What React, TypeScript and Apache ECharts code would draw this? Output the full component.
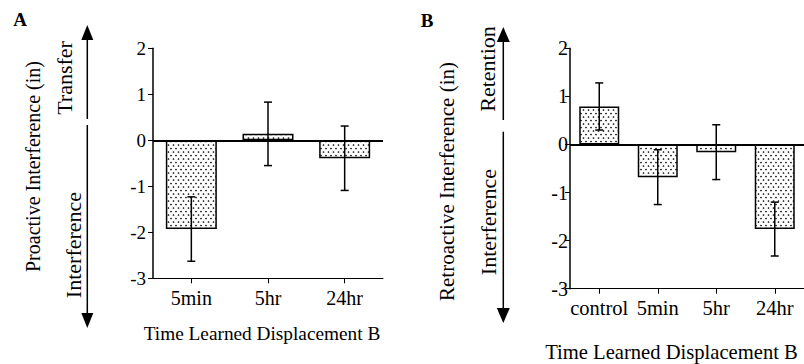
import React, { useEffect, useRef } from "react";
import * as echarts from "echarts";

const categoriesA = ["5min", "5hr", "24hr"];
const valuesA = [-1.93, 0.14, -0.39];
const errorsA = [0.7, 0.69, 0.7];

const categoriesB = ["control", "5min", "5hr", "24hr"];
const valuesB = [0.79, -0.68, -0.16, -1.76];
const errorsB = [0.49, 0.57, 0.57, 0.56];

const yMin = -3;
const yMax = 2;
const yStep = 1;

const FONT = "Liberation Serif";
const INK = "#000";

function makePattern() {
  const c = document.createElement("canvas");
  c.width = 5;
  c.height = 7;
  const ctx = c.getContext("2d")!;
  ctx.fillStyle = "#fff";
  ctx.fillRect(0, 0, 5, 7);
  ctx.fillStyle = "#000";
  ctx.beginPath();
  ctx.arc(1, 1.5, 0.85, 0, Math.PI * 2);
  ctx.fill();
  ctx.beginPath();
  ctx.arc(3.5, 5, 0.85, 0, Math.PI * 2);
  ctx.fill();
  return { image: c.toDataURL(), repeat: "repeat", imageWidth: 5, imageHeight: 7 };
}

function errorRender(params: any, api: any) {
  const x = api.value(0);
  const lo = api.value(1);
  const hi = api.value(2);
  const pLo = api.coord([x, lo]);
  const pHi = api.coord([x, hi]);
  const hw = 4;
  const st = { stroke: INK, lineWidth: 1.5 };
  return {
    type: "group",
    children: [
      { type: "line", shape: { x1: pLo[0], y1: pLo[1], x2: pHi[0], y2: pHi[1] }, style: st },
      { type: "line", shape: { x1: pLo[0] - hw, y1: pLo[1], x2: pLo[0] + hw, y2: pLo[1] }, style: st },
      { type: "line", shape: { x1: pHi[0] - hw, y1: pHi[1], x2: pHi[0] + hw, y2: pHi[1] }, style: st },
    ],
  };
}

function txt(text: string, x: number, y: number, size: number, rotate = false, bold = false) {
  return {
    type: "text",
    x,
    y,
    rotation: rotate ? Math.PI / 2 : 0,
    style: {
      text,
      fontFamily: FONT,
      fontSize: size,
      fontWeight: bold ? "bold" : "normal",
      fill: INK,
      align: "center",
      verticalAlign: "middle",
      textAlign: "center",
      textVerticalAlign: "middle",
    },
  };
}

function arrow(x: number, top: number, gapTop: number, gapBottom: number, bottom: number, headH: number, headW: number) {
  const ls = { stroke: INK, lineWidth: 1.5 };
  return [
    { type: "line", shape: { x1: x, y1: top + headH, x2: x, y2: gapTop }, style: ls },
    { type: "line", shape: { x1: x, y1: gapBottom, x2: x, y2: bottom - headH }, style: ls },
    {
      type: "polygon",
      shape: { points: [[x, top], [x - headW / 2, top + headH], [x + headW / 2, top + headH]] },
      style: { fill: INK },
    },
    {
      type: "polygon",
      shape: { points: [[x, bottom], [x - headW / 2, bottom - headH], [x + headW / 2, bottom - headH]] },
      style: { fill: INK },
    },
  ];
}

export default function App() {
  const ref = useRef<HTMLDivElement>(null);
  useEffect(() => {
    if (!ref.current) return;
    const chart = echarts.init(ref.current, undefined, { renderer: "svg" });
    const pattern = makePattern();

    const xAxisBase = (data: string[], gridIndex: number, fontSize: number, margin: number) => ({
      type: "category",
      gridIndex,
      data,
      position: "bottom",
      axisLine: { show: true, onZero: false, lineStyle: { color: INK, width: 1 } },
      axisTick: { show: true, alignWithLabel: true, length: 5, lineStyle: { color: INK, width: 1 } },
      axisLabel: { fontFamily: FONT, fontSize, color: INK, margin, interval: 0 },
      splitLine: { show: false },
    });
    const yAxisBase = (gridIndex: number, fontSize: number, margin: number) => ({
      type: "value",
      gridIndex,
      min: yMin,
      max: yMax,
      interval: yStep,
      axisLine: { show: true, lineStyle: { color: INK, width: 1.5 } },
      axisTick: { show: true, length: 5, lineStyle: { color: INK, width: 1 } },
      axisLabel: { fontFamily: FONT, fontSize, color: INK, margin },
      splitLine: { show: false },
    });
    const zeroLine = {
      silent: true,
      symbol: "none",
      data: [{ yAxis: 0 }],
      label: { show: false },
      lineStyle: { color: INK, width: 2, type: "solid" },
    };
    const barStyle = { color: pattern, borderColor: INK, borderWidth: 1.5 };

    chart.setOption({
      animation: false,
      backgroundColor: "#fff",
      textStyle: { fontFamily: FONT },
      grid: [
        { left: 153, top: 48.3, width: 230, height: 230 },
        { left: 570, top: 48.3, width: 238, height: 240.4 },
      ],
      xAxis: [xAxisBase(categoriesA, 0, 20, 10), xAxisBase(categoriesB, 1, 20.5, 9)],
      yAxis: [yAxisBase(0, 19, 7), yAxisBase(1, 20, 2)],
      series: [
        {
          type: "bar",
          xAxisIndex: 0,
          yAxisIndex: 0,
          data: valuesA,
          barWidth: 51,
          itemStyle: barStyle,
          markLine: zeroLine,
          z: 2,
        },
        {
          type: "custom",
          xAxisIndex: 0,
          yAxisIndex: 0,
          renderItem: errorRender,
          encode: { x: 0, y: [1, 2] },
          data: valuesA.map((v, i) => [i, v - errorsA[i], v + errorsA[i]]),
          z: 4,
        },
        {
          type: "bar",
          xAxisIndex: 1,
          yAxisIndex: 1,
          data: valuesB,
          barWidth: 40,
          itemStyle: barStyle,
          markLine: zeroLine,
          z: 2,
        },
        {
          type: "custom",
          xAxisIndex: 1,
          yAxisIndex: 1,
          renderItem: errorRender,
          encode: { x: 0, y: [1, 2] },
          data: valuesB.map((v, i) => [i, v - errorsB[i], v + errorsB[i]]),
          z: 4,
        },
      ],
      graphic: [
        txt("A", 20, 19.5, 19, false, true),
        txt("Proactive Interference (in)", 33, 166.5, 20, true),
        txt("Transfer", 64, 78, 22, true),
        txt("Interference", 73, 245, 22, true),
        ...arrow(87.3, 25, 119, 125, 328, 15, 12),
        txt("Time Learned Displacement B", 262, 333.5, 19.3),
        txt("B", 427, 20, 19, false, true),
        txt("Retroactive Interference (in)", 446.7, 181.5, 21, true),
        txt("Retention", 487.5, 69, 22, true),
        txt("Interference", 488, 222, 22, true),
        ...arrow(503.3, 27, 120, 131.7, 323, 15, 13),
        txt("Time Learned Displacement B", 671.5, 351.5, 20.6),
      ],
    });
    return () => chart.dispose();
  }, []);
  return (
    <div
      ref={ref}
      style={{ position: "fixed", left: 0, top: 0, width: 804, height: 364, background: "#fff" }}
    />
  );
}
